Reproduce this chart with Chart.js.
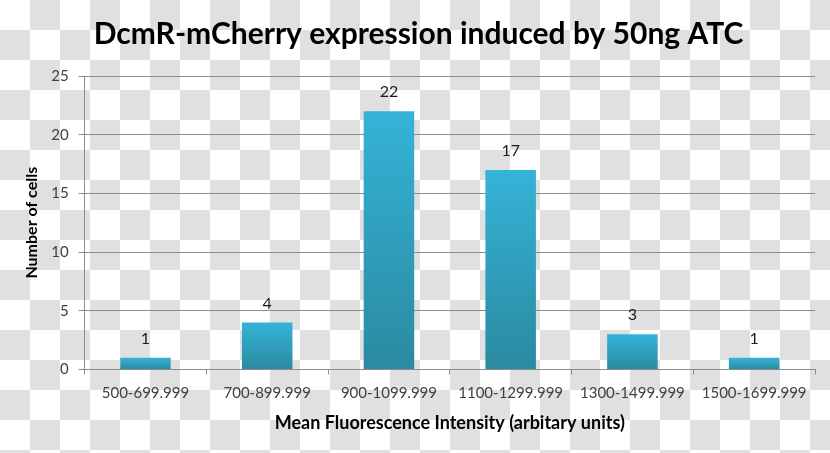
<!DOCTYPE html>
<html>
<head>
<meta charset="utf-8">
<script src="https://cdn.jsdelivr.net/npm/chart.js@4.4.1/dist/chart.umd.min.js"></script>
<style>
    html, body {
        margin: 0;
        padding: 0;
    }
    body {
        width: 830px;
        height: 453px;
        background: repeating-conic-gradient(#e0e0e0 0 25%, #ffffff 0 50%) 0 0 / 60px 60px;
    }
    #wrap {
        position: relative;
        width: 830px;
        height: 453px;
    }
</style>
</head>
<body>
<div id="wrap"><canvas id="histChart"></canvas></div>
<script>
const categories = ['500-699.999', '700-899.999', '900-1099.999', '1100-1299.999', '1300-1499.999', '1500-1699.999'];
const cellCounts = [1, 4, 22, 17, 3, 1];
const yTicks = [0, 5, 10, 15, 20, 25];

const fontFamily = 'Lato, "Open Sans", sans-serif';

// per-bar vertical gradient, light cyan at top to teal at the base
function barGradient(context) {
    const chart = context.chart;
    const y = chart.scales.y;
    if (!y || !chart.chartArea) {
        return '#31a9cc';
    }
    const top = y.getPixelForValue(context.raw);
    const base = y.getPixelForValue(0);
    const g = chart.ctx.createLinearGradient(0, top, 0, base);
    g.addColorStop(0, '#35b3d8');
    g.addColorStop(1, '#2a8aa0');
    return g;
}

// number above each bar
const valueLabels = {
    id: 'valueLabels',
    afterDatasetsDraw(chart) {
        const ctx = chart.ctx;
        const meta = chart.getDatasetMeta(0);
        ctx.save();
        ctx.font = '16px ' + fontFamily;
        ctx.fillStyle = '#1a1a1a';
        ctx.textAlign = 'center';
        ctx.textBaseline = 'bottom';
        meta.data.forEach(function(bar, i) {
            ctx.fillText(cellCounts[i], bar.x, bar.y - 11);
        });
        ctx.restore();
    }
};

const ctx = document.getElementById('histChart').getContext('2d');
window.myChart = new Chart(ctx, {
    type: 'bar',
    data: {
        labels: categories,
        datasets: [{
            label: 'Number of cells',
            data: cellCounts,
            backgroundColor: barGradient,
            borderWidth: 0,
            categoryPercentage: 1,
            barPercentage: 0.415
        }]
    },
    options: {
        responsive: true,
        maintainAspectRatio: false,
        animation: false,
        layout: {
            padding: { left: 22, right: 15, top: 0, bottom: 19 }
        },
        plugins: {
            legend: { display: false },
            tooltip: { enabled: false },
            title: {
                display: true,
                text: 'DcmR-mCherry expression induced by 50ng ATC',
                color: '#000',
                font: { family: fontFamily, size: 30, weight: 'bold' },
                padding: { top: 16, bottom: 24 }
            }
        },
        scales: {
            x: {
                offset: true,
                grid: {
                    offset: true,
                    drawOnChartArea: false,
                    tickLength: 5,
                    color: '#8c8c8c'
                },
                border: { color: '#8c8c8c', width: 1 },
                ticks: {
                    color: '#404040',
                    font: { family: fontFamily, size: 15 },
                    padding: 10,
                    maxRotation: 0
                },
                title: {
                    display: true,
                    text: 'Mean Fluorescence Intensity (arbitary units)',
                    color: '#000',
                    font: { family: fontFamily, size: 18, weight: 'bold' },
                    padding: { top: 0, bottom: 0 }
                }
            },
            y: {
                min: 0,
                max: 25,
                afterBuildTicks: function(axis) {
                    axis.ticks = yTicks.map(function(v) { return { value: v }; });
                },
                grid: {
                    color: '#8c8c8c',
                    tickLength: 6
                },
                border: { color: '#8c8c8c', width: 1 },
                ticks: {
                    color: '#404040',
                    font: { family: fontFamily, size: 15 },
                    padding: 10
                },
                title: {
                    display: true,
                    text: 'Number of cells',
                    color: '#000',
                    font: { family: fontFamily, size: 16, weight: 'bold' },
                    padding: { top: 0, bottom: 0 }
                }
            }
        }
    },
    plugins: [valueLabels]
});
</script>
</body>
</html>
